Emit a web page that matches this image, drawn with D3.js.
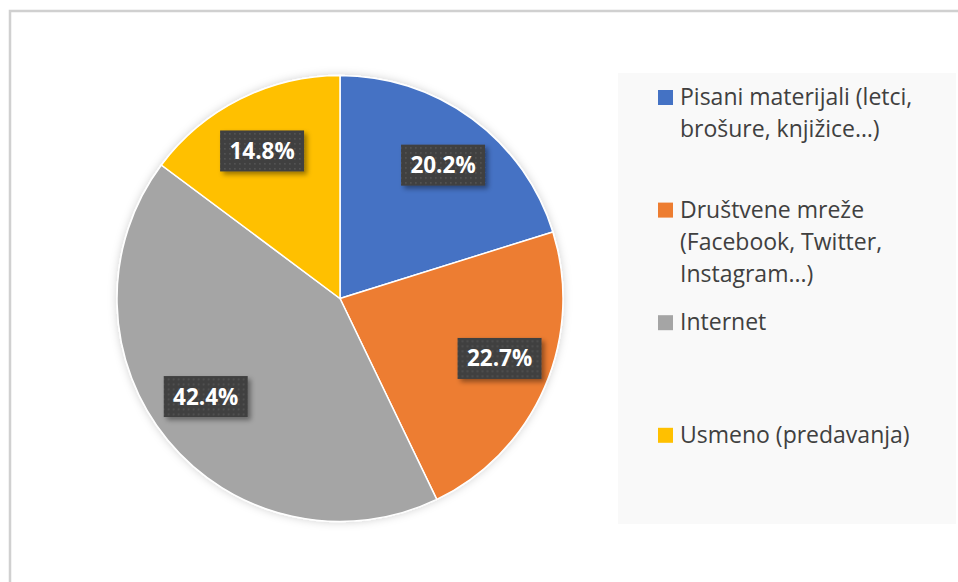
<!DOCTYPE html>
<html><head><meta charset="utf-8">
<script src="https://cdn.jsdelivr.net/npm/d3@7"></script>
<style>html,body{margin:0;padding:0;background:#fff;}svg{display:block;}</style>
</head><body>
<script>
const categories = ["Pisani materijali (letci, brošure, knjižice…)", "Društvene mreže (Facebook, Twitter, Instagram...)", "Internet", "Usmeno (predavanja)"];
const legendLines = [["Pisani materijali (letci,", "brošure, knjižice…)"], ["Društvene mreže", "(Facebook, Twitter,", "Instagram...)"], ["Internet"], ["Usmeno (predavanja)"]];
const values = [20.2, 22.7, 42.4, 14.8];
const labels = ["20.2%", "22.7%", "42.4%", "14.8%"];
const colors = ["#4472C4", "#ED7D31", "#A5A5A5", "#FFC000"];

const W = 958, H = 582;
const svg = d3.select("body").append("svg").attr("width", W).attr("height", H);
const defs = svg.append("defs");
const pat = defs.append("pattern").attr("id", "dots").attr("width", 5).attr("height", 5).attr("patternUnits", "userSpaceOnUse");
pat.append("rect").attr("width", 5).attr("height", 5).attr("fill", "#404040");
pat.append("rect").attr("x", 2).attr("y", 2).attr("width", 1.6).attr("height", 1.6).attr("fill", "#555555");
const sh = defs.append("filter").attr("id", "lblshadow").attr("x", "-20%").attr("y", "-20%").attr("width", "150%").attr("height", "160%");
sh.append("feDropShadow").attr("dx", 3).attr("dy", 3).attr("stdDeviation", 2.5).attr("flood-color", "#000").attr("flood-opacity", 0.4);
const psh = defs.append("filter").attr("id", "pieshadow").attr("x", "-10%").attr("y", "-10%").attr("width", "120%").attr("height", "120%");
psh.append("feDropShadow").attr("dx", 0).attr("dy", 0).attr("stdDeviation", 4).attr("flood-color", "#000").attr("flood-opacity", 0.18);

// outer border
svg.append("rect").attr("x", 10).attr("y", 11).attr("width", 1200).attr("height", 1200)
  .attr("fill", "#fff").attr("stroke", "#d0d0d0").attr("stroke-width", 2.5);

// legend background
svg.append("rect").attr("x", 618).attr("y", 73).attr("width", 338).attr("height", 451).attr("fill", "#f9f9f9");

const cx = 340, cy = 298.5, r = 223;
const pie = d3.pie().sort(null).value(d => d);
const arcs = pie(values);
const arc = d3.arc().innerRadius(0).outerRadius(r);
const g = svg.append("g").attr("transform", `translate(${cx},${cy})`);
g.append("g").attr("filter", "url(#pieshadow)").selectAll("path").data(arcs).join("path")
  .attr("d", arc).attr("fill", (d, i) => colors[i]).attr("stroke", "#fff").attr("stroke-width", 1.5);

// labels
const lg = g.selectAll("g.lbl").data(arcs).join("g").attr("class", "lbl")
  .attr("transform", d => {
    const a = (d.startAngle + d.endAngle) / 2;
    const x = 0.78 * r * Math.sin(a);
    const y = -0.72 * r * Math.cos(a) - 4;
    return `translate(${x},${y})`;
  });
lg.append("rect").attr("x", -42).attr("y", -20.5).attr("width", 84).attr("height", 41)
  .attr("fill", "url(#dots)").attr("filter", "url(#lblshadow)");
lg.append("text").attr("text-anchor", "middle").attr("dy", 8)
  .attr("font-family", "'Open Sans', sans-serif").attr("font-weight", "bold").attr("font-size", 22.5)
  .attr("fill", "#fff").text((d, i) => labels[i]);

// legend
const leg = svg.append("g");
const items = leg.selectAll("g").data(categories).join("g")
  .attr("transform", (d, i) => `translate(658,${105 + i * 112.6})`);
items.append("rect").attr("x", 0).attr("y", -15).attr("width", 15).attr("height", 15).attr("fill", (d, i) => colors[i]);
items.append("text").attr("x", 22).attr("font-family", "'Open Sans', sans-serif").attr("font-size", 23).attr("fill", "#404040")
  .each(function(d, i) {
    d3.select(this).selectAll("tspan").data(legendLines[i]).join("tspan")
      .attr("x", 22).attr("y", (l, j) => j * 32.4).text(l => l);
  });
</script>
</body></html>
